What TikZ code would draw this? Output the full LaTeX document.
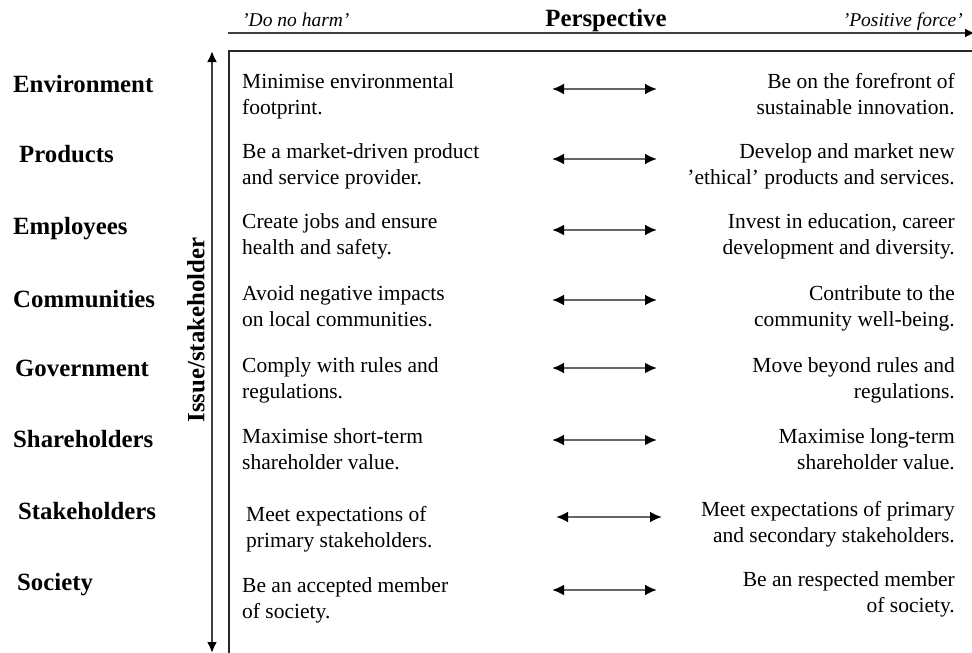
\documentclass[tikz,border=0pt]{standalone}
\usepackage{fontspec}
\setmainfont{Liberation Serif}
\usetikzlibrary{arrows.meta}
\begin{document}
\begin{tikzpicture}[x=1pt,y=-1pt,
  lab/.style={anchor=base west, inner sep=0pt, font=\fontsize{24.8}{28}\selectfont\bfseries},
  txt/.style={inner sep=0pt, font=\fontsize{21.5}{26}\selectfont},
  hdr/.style={inner sep=0pt, font=\fontsize{19.5}{22}\selectfont\itshape},
  dbl/.style={{Latex[length=12pt,width=11pt,color=black]}-{Latex[length=12pt,width=11pt,color=black]}, line width=2.8pt, black!60},
  frame/.style={line width=1.6pt, black!85},
]
\useasboundingbox (0,0) rectangle (972,653);

% header
\node[hdr, anchor=base west] (dnh) at (242,27) {'Do no harm'};
\node[inner sep=0pt, anchor=base, font=\fontsize{24.8}{28}\selectfont\bfseries] (persp) at (606,27) {Perspective};
\node[hdr, anchor=base east] (pf) at (963,27) {'Positive force'};
\coordinate (hl) at (228,33);
\coordinate (hr) at (975,33);
\draw[-{Latex[length=10pt,width=9pt,color=black]}, line width=2.2pt, black!75] (hl) -- (hr);

% frame
\coordinate (ftr) at (972,51);
\coordinate (ftl) at (229,51);
\coordinate (fbl) at (229,653);
\draw[frame] (ftr) -- (ftl) -- (fbl);

% vertical axis
\coordinate (vt) at (212,51);
\coordinate (vb) at (212,653);
\draw[{Latex[length=11pt,width=10pt,color=black]}-{Latex[length=11pt,width=10pt,color=black]}, line width=2.2pt, black!75] (vb) -- (vt);
\node[rotate=90, inner sep=0pt, font=\fontsize{24.8}{28}\selectfont\bfseries] (axis) at (196,330) {Issue/stakeholder};

% row labels
\node[lab] (r1) at (13,92) {Environment};
\node[lab] (r2) at (19,162) {Products};
\node[lab] (r3) at (13,234) {Employees};
\node[lab] (r4) at (13,307) {Communities};
\node[lab] (r5) at (15,376) {Government};
\node[lab] (r6) at (13,447) {Shareholders};
\node[lab] (r7) at (18,519) {Stakeholders};
\node[lab] (r8) at (17,590) {Society};

% left column
\node[txt, anchor=base west] (l1) at (242,88) {\begin{tabular}[t]{@{}l@{}}Minimise environmental\\footprint.\end{tabular}};
\node[txt, anchor=base west] (l2) at (242,158) {\begin{tabular}[t]{@{}l@{}}Be a market-driven product\\and service provider.\end{tabular}};
\node[txt, anchor=base west] (l3) at (242,228) {\begin{tabular}[t]{@{}l@{}}Create jobs and ensure\\health and safety.\end{tabular}};
\node[txt, anchor=base west] (l4) at (242,300) {\begin{tabular}[t]{@{}l@{}}Avoid negative impacts\\on local communities.\end{tabular}};
\node[txt, anchor=base west] (l5) at (242,372) {\begin{tabular}[t]{@{}l@{}}Comply with rules and\\regulations.\end{tabular}};
\node[txt, anchor=base west] (l6) at (242,443) {\begin{tabular}[t]{@{}l@{}}Maximise short-term\\shareholder value.\end{tabular}};
\node[txt, anchor=base west] (l7) at (246,521) {\begin{tabular}[t]{@{}l@{}}Meet expectations of\\primary stakeholders.\end{tabular}};
\node[txt, anchor=base west] (l8) at (242,592) {\begin{tabular}[t]{@{}l@{}}Be an accepted member\\of society.\end{tabular}};

% right column
\node[txt, anchor=base east] (q1) at (955,88) {\begin{tabular}[t]{@{}r@{}}Be on the forefront of\\sustainable innovation.\end{tabular}};
\node[txt, anchor=base east] (q2) at (955,158) {\begin{tabular}[t]{@{}r@{}}Develop and market new\\'ethical' products and services.\end{tabular}};
\node[txt, anchor=base east] (q3) at (955,228) {\begin{tabular}[t]{@{}r@{}}Invest in education, career\\development and diversity.\end{tabular}};
\node[txt, anchor=base east] (q4) at (955,300) {\begin{tabular}[t]{@{}r@{}}Contribute to the\\community well-being.\end{tabular}};
\node[txt, anchor=base east] (q5) at (955,372) {\begin{tabular}[t]{@{}r@{}}Move beyond rules and\\regulations.\end{tabular}};
\node[txt, anchor=base east] (q6) at (955,443) {\begin{tabular}[t]{@{}r@{}}Maximise long-term\\shareholder value.\end{tabular}};
\node[txt, anchor=base east] (q7) at (955,516) {\begin{tabular}[t]{@{}r@{}}Meet expectations of primary\\and secondary stakeholders.\end{tabular}};
\node[txt, anchor=base east] (q8) at (955,586) {\begin{tabular}[t]{@{}r@{}}Be an respected member\\of society.\end{tabular}};

% double arrows
\foreach \i/\y/\xa/\xb in {1/89/552/657, 2/159/552/657, 3/230/552/657, 4/300/552/657, 5/368/552/657, 6/440/552/657, 7/517/556/662, 8/590/552/657}{
  \coordinate (a\i l) at (\xa,\y);
  \coordinate (a\i r) at (\xb,\y);
  \draw[dbl] (a\i l) -- (a\i r);
}
\end{tikzpicture}
\end{document}
